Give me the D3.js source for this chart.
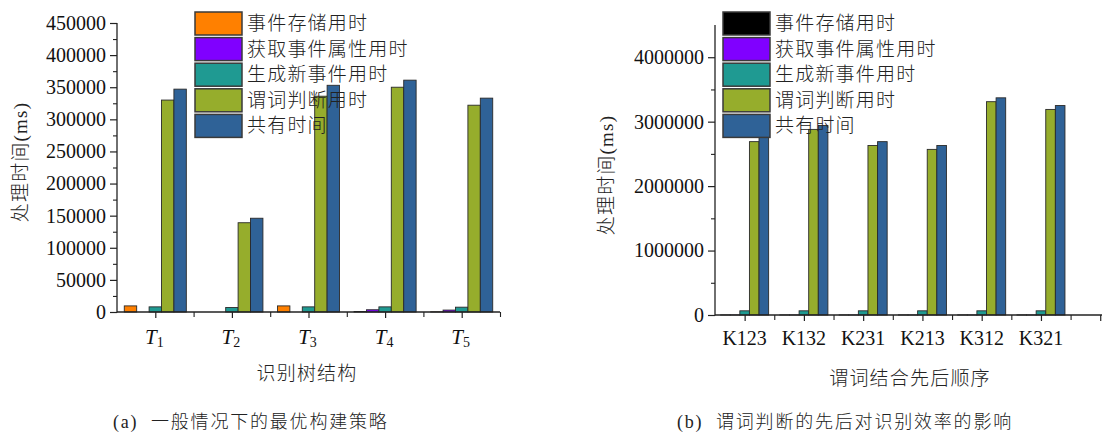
<!DOCTYPE html>
<html>
<head>
<meta charset="utf-8">
<script src="https://cdn.jsdelivr.net/npm/d3@7"></script>
<style>
  html, body { margin: 0; padding: 0; background: #ffffff; }
  svg { display: block; }
</style>
</head>
<body>
<svg id="chart" width="1102" height="434"></svg>
<script>
// ---------- DATA ----------
const seriesNames = ["事件存储用时", "获取事件属性用时", "生成新事件用时", "谓词判断用时", "共有时间"];

const leftCategories = ["T1", "T2", "T3", "T4", "T5"];
const leftStore = [9500, 0, 9500, 800, 300];
const leftAttr  = [0, 0, 0, 3500, 3000];
const leftNew   = [8000, 7000, 8000, 8000, 7500];
const leftPred  = [330000, 139000, 336000, 350000, 322000];
const leftTotal = [347000, 146000, 353000, 361000, 333000];
const leftYTicks = [0, 50000, 100000, 150000, 200000, 250000, 300000, 350000, 400000, 450000];
const leftColors = ["#FF8000", "#8000FF", "#1F9A92", "#96AD2C", "#2F6297"];

const rightCategories = ["K123", "K132", "K231", "K213", "K312", "K321"];
const rightStore = [1000, 1000, 1000, 1000, 1000, 1000];
const rightAttr  = [1000, 1000, 1000, 1000, 1000, 1000];
const rightNew   = [65000, 65000, 65000, 65000, 65000, 65000];
const rightPred  = [2690000, 2880000, 2630000, 2570000, 3310000, 3190000];
const rightTotal = [2760000, 2940000, 2690000, 2630000, 3370000, 3250000];
const rightYTicks = [0, 1000000, 2000000, 3000000, 4000000];
const rightColors = ["#000000", "#8000FF", "#1F9A92", "#96AD2C", "#2F6297"];

const yTitle = "处理时间(ms)";
const leftXTitle = "识别树结构";
const rightXTitle = "谓词结合先后顺序";
const leftCaption = "(a)  一般情况下的最优构建策略";
const rightCaption = "(b)  谓词判断的先后对识别效率的影响";

// ---------- DRAW ----------
const SERIF = "'Liberation Serif', 'Times New Roman', serif";
const CJK = "'Liberation Serif', 'Noto Sans CJK SC', sans-serif";
const svg = d3.select("#chart");

function drawChart(cfg) {
  const g = svg.append("g");
  const x = d3.scaleLinear().domain(cfg.xDomain).range([cfg.left, cfg.right]);
  const y = d3.scaleLinear().domain(cfg.yDomain).range([cfg.bottom, cfg.top]);
  const bandPx = x(2) - x(1);
  const groupPx = bandPx * 0.81;
  const sub = d3.scaleBand().domain(d3.range(cfg.series.length)).range([0, groupPx]);

  // bars
  cfg.series.forEach((vals, s) => {
    g.append("g").selectAll("rect").data(vals).join("rect")
      .attr("x", (d, i) => x(i + 1) - groupPx / 2 + sub(s))
      .attr("width", sub.bandwidth())
      .attr("y", d => y(d))
      .attr("height", d => y(0) - y(d))
      .attr("fill", cfg.colors[s])
      .attr("stroke", "#2a2a2a")
      .attr("stroke-width", 0.9);
  });

  // y axis major
  const yAxis = g.append("g").attr("transform", `translate(${cfg.left},0)`)
    .call(d3.axisLeft(y).tickValues(cfg.yTicks).tickSize(7).tickPadding(4).tickFormat(d3.format("d")));
  yAxis.attr("font-family", SERIF).attr("font-size", 20);
  yAxis.select(".domain").attr("stroke", "#222").attr("stroke-width", 1.3)
    .attr("d", `M0,${cfg.bottom + 0.5}V${cfg.top}`);
  yAxis.selectAll(".tick line").attr("stroke", "#222").attr("stroke-width", 1.2);
  yAxis.selectAll("text").attr("font-family", SERIF).attr("font-size", 20).attr("fill", "#111");
  // y minor
  const minor = cfg.yTicks.slice(0, -1).map((t, i) => (t + cfg.yTicks[i + 1]) / 2);
  const yMin = g.append("g").attr("transform", `translate(${cfg.left},0)`)
    .call(d3.axisLeft(y).tickValues(minor).tickSize(4).tickFormat(""));
  yMin.select(".domain").remove();
  yMin.selectAll(".tick line").attr("stroke", "#222").attr("stroke-width", 1.1);

  // x axis major
  const majors = d3.range(1, cfg.majorCount + 1);
  const xAxis = g.append("g").attr("transform", `translate(0,${cfg.bottom})`)
    .call(d3.axisBottom(x).tickValues(majors).tickSize(6).tickFormat(""));
  xAxis.select(".domain").attr("stroke", "#222").attr("stroke-width", 1.3)
    .attr("d", `M${cfg.left},0H${cfg.right}`);
  xAxis.selectAll(".tick line").attr("stroke", "#222").attr("stroke-width", 1.2);
  const xMinorVals = d3.range(1, cfg.majorCount + 1).map(v => v + 0.5).filter(v => x(v) <= cfg.right + 0.5);
  const xMin = g.append("g").attr("transform", `translate(0,${cfg.bottom})`)
    .call(d3.axisBottom(x).tickValues(xMinorVals).tickSize(5).tickFormat(""));
  xMin.select(".domain").remove();
  xMin.selectAll(".tick line").attr("stroke", "#222").attr("stroke-width", 1.1);

  // category labels
  const lab = g.append("g").selectAll("text").data(cfg.categories).join("text")
    .attr("font-family", SERIF)
    .attr("x", (d, i) => x(i + 1) + (cfg.subscript ? -1 : 0))
    .attr("y", cfg.labelBaseline)
    .attr("text-anchor", "middle")
    .attr("font-size", 20)
    .attr("fill", "#111");
  if (cfg.subscript) {
    lab.each(function(d) {
      const t = d3.select(this);
      t.append("tspan").attr("font-style", "italic").attr("font-size", 21).text(d[0]);
      t.append("tspan").attr("font-size", 14).attr("dy", 3).text(d.slice(1));
    });
  } else {
    lab.text(d => d);
  }

  // x title
  g.append("text").attr("font-family", CJK).attr("font-weight", 300)
    .attr("x", cfg.xTitlePos[0]).attr("y", cfg.xTitlePos[1])
    .attr("text-anchor", "middle").attr("dominant-baseline", "central")
    .attr("font-size", 19).attr("letter-spacing", 1.2).attr("fill", "#222")
    .text(cfg.xTitle);

  // y title
  g.append("text").attr("font-family", CJK).attr("font-weight", 300)
    .attr("transform", `translate(${cfg.yTitlePos[0]},${cfg.yTitlePos[1]}) rotate(-90)`)
    .attr("text-anchor", "middle").attr("dominant-baseline", "central")
    .attr("font-size", 19).attr("letter-spacing", 1.2).attr("fill", "#222")
    .text(yTitle);

  // legend
  const leg = g.append("g");
  seriesNames.forEach((name, s) => {
    const yy = cfg.legend[1] + s * 25.6;
    leg.append("rect")
      .attr("x", cfg.legend[0]).attr("y", yy)
      .attr("width", 47).attr("height", 23)
      .attr("fill", cfg.colors[s])
      .attr("stroke", "#3a3a3a").attr("stroke-width", 1.5);
    leg.append("text").attr("font-family", CJK).attr("font-weight", 300)
      .attr("x", cfg.legend[0] + 52).attr("y", yy + 11.5)
      .attr("dominant-baseline", "central")
      .attr("font-size", 19).attr("letter-spacing", 1.2).attr("fill", "#222")
      .text(name);
  });

  // caption
  g.append("text").attr("font-family", CJK).attr("font-weight", 300)
    .attr("x", cfg.caption[0]).attr("y", cfg.caption[1])
    .attr("font-size", 18).attr("letter-spacing", 1.8).attr("fill", "#222")
    .attr("xml:space", "preserve")
    .text(cfg.captionText);
}

drawChart({
  categories: leftCategories,
  series: [leftStore, leftAttr, leftNew, leftPred, leftTotal],
  colors: leftColors,
  yTicks: leftYTicks,
  yDomain: [0, 450000],
  xDomain: [0.5, 5.5],
  majorCount: 5,
  left: 117, right: 500, top: 23, bottom: 312,
  subscript: true,
  labelBaseline: 344,
  xTitle: leftXTitle, xTitlePos: [307, 373],
  yTitlePos: [20, 162],
  legend: [195, 12],
  caption: [113, 428], captionText: leftCaption
});

drawChart({
  categories: rightCategories,
  series: [rightStore, rightAttr, rightNew, rightPred, rightTotal],
  colors: rightColors,
  yTicks: rightYTicks,
  yDomain: [0, 4500000],
  xDomain: [0.5, 7.03],
  majorCount: 7,
  left: 715, right: 1102, top: 25, bottom: 315,
  subscript: false,
  labelBaseline: 345,
  xTitle: rightXTitle, xTitlePos: [910, 378],
  yTitlePos: [606, 175],
  legend: [723, 12],
  caption: [677, 428], captionText: rightCaption
});
</script>
</body>
</html>
